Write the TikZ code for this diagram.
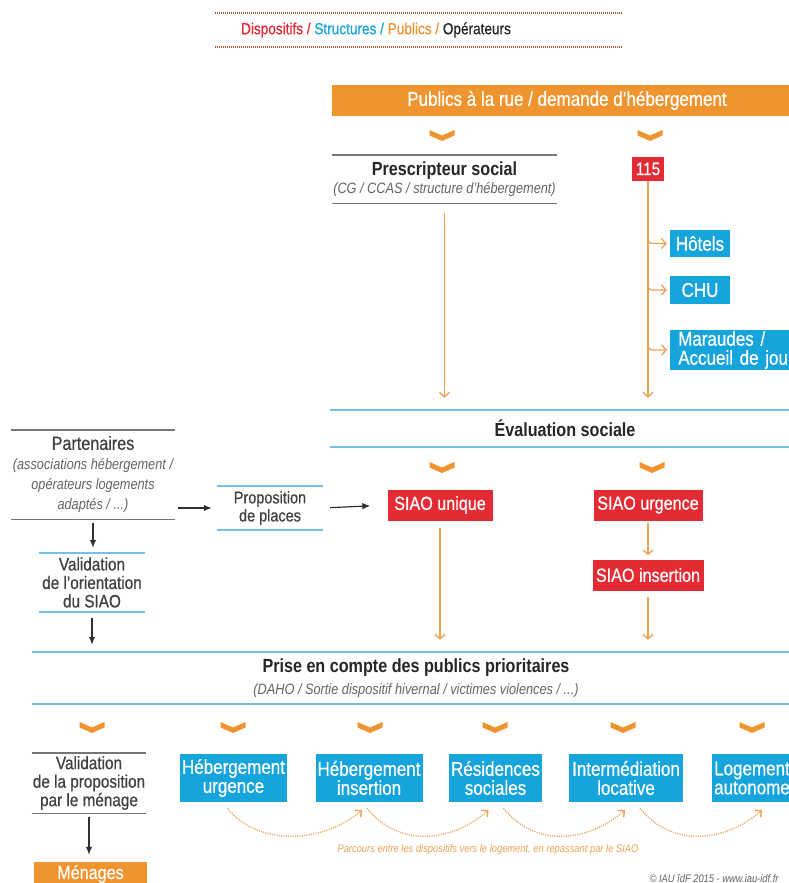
\documentclass[tikz,border=0pt]{standalone}
\usepackage{fontspec}
\setmainfont{Liberation Sans}[FakeStretch=0.85, UprightFeatures={FakeBold=0.6}]
\usetikzlibrary{positioning,arrows.meta}
\definecolor{orangeiau}{RGB}{240,148,48}
\definecolor{orangefin}{RGB}{236,162,84}
\definecolor{rougeiau}{RGB}{228,42,50}
\definecolor{bleuiau}{RGB}{22,164,220}
\definecolor{bleuligne}{RGB}{118,192,228}
\definecolor{grisligne}{RGB}{118,118,118}
\definecolor{texte}{RGB}{38,38,38}
\definecolor{textegris}{RGB}{64,64,64}
\definecolor{italgris}{RGB}{100,100,100}
\definecolor{noirfl}{RGB}{48,48,48}
\definecolor{pointbrun}{RGB}{168,86,56}
\newcommand{\gtitre}{\fontsize{19}{20}\selectfont\bfseries}
\newcommand{\gsous}{\itshape\color{italgris}}
\tikzset{
  bandeau/.style={fill=orangeiau, text=white, inner sep=0pt, font=\fontsize{20}{24}\selectfont},
  disp/.style={fill=rougeiau, text=white, inner sep=0pt, font=\fontsize{19}{22}\selectfont},
  struct/.style={fill=bleuiau, text=white, inner xsep=2pt, inner ysep=0pt, align=center, font=\fontsize{20}{19}\selectfont},
  bande/.style={inner sep=0pt, align=center, text=textegris},
  lbleu/.style={draw=bleuligne, line width=1.8pt},
  lgris/.style={draw=grisligne, line width=1.4pt},
  fo/.style={-{Straight Barb[length=4.5pt,width=10pt]}, orangefin, line width=1.3pt},
  fn/.style={-{Latex[length=8pt,width=6.5pt]}, noirfl, line width=1.2pt},
  parcours/.style={-{Straight Barb[length=4.5pt,width=9pt]}, orangefin, line width=1.4pt, dash pattern=on 1pt off 1.3pt},
  pointille/.style={pointbrun, line width=1.2pt, dash pattern=on 1pt off 1pt},
  chevron/.pic={\fill[orangeiau] (-12.5,-5) -- (0,0.5) -- (12.5,-5) -- (12.5,0.5) -- (0,6) -- (-12.5,0.5) -- cycle;},
}
\begin{document}
\begin{tikzpicture}[x=1pt, y=-1pt]
\useasboundingbox (0,0) rectangle (789,883);
\fill[white] (0,0) rectangle (789,883);
\clip (0,0) rectangle (789,883);

%% ---- legende des couleurs
\draw[pointille] (215,13) -- (622,13);
\draw[pointille] (215,47) -- (622,47);
\node[font=\fontsize{16}{18}\selectfont] (legende) at (376,30)
  {\color{rougeiau}Dispositifs / \color{bleuiau}Structures / \color{orangeiau}Publics / \color{texte}Opérateurs};

%% ---- la demande
\node[bandeau, minimum width=470, minimum height=31] (publics) at (567,100.5) {Publics à la rue / demande d’hébergement};
\pic at (442,135) {chevron};
\pic at (650,135) {chevron};

\node[bande, minimum width=225, minimum height=48, font=\fontsize{15}{18}\selectfont] (presc) at (444.5,179)
  {{\gtitre\color{texte}Prescripteur social}\\{\gsous (CG / CCAS / structure d’hébergement)}};
\node[disp, minimum width=32, minimum height=24, font=\fontsize{18}{20}\selectfont] (n115) at (648,169) {115};

%% ---- orientations directes du 115
\node[struct, minimum width=60, minimum height=27] (hotels) at (700,243.5) {Hôtels};
\node[struct, minimum width=60, minimum height=28] (chu) at (700,290) {CHU};
\node[struct, anchor=west, text width=125, inner xsep=8pt, minimum height=40, align=left] (maraudes) at (670,350)
  {Maraudes /\\Accueil de jour};

%% ---- evaluation puis SIAO
\node[bande, minimum width=470, minimum height=37, font=\gtitre, text=texte] (eval) at (565,428.5) {Évaluation sociale};
\pic at (442,467) {chevron};
\pic at (652,467) {chevron};
\node[disp, minimum width=105, minimum height=31] (unique) at (440,505) {SIAO unique};
\node[disp, minimum width=109, minimum height=31] (urgence) at (648,505) {SIAO urgence};
\node[disp, minimum width=111, minimum height=31] (insertion) at (648,575) {SIAO insertion};

%% ---- colonne des partenaires
\node[bande, minimum width=164, minimum height=89, font=\fontsize{15}{20}\selectfont\itshape] (partenaires) at (93,474.5)
  {{\fontsize{19}{20}\selectfont\upshape Partenaires}\\{\gsous (associations hébergement /}\\{\gsous opérateurs logements}\\{\gsous adaptés / ...)}};
\node[bande, minimum width=106, minimum height=44, font=\fontsize{17}{18}\selectfont] (prop) at (270,508) {Proposition\\de places};
\node[bande, minimum width=106, minimum height=59, font=\fontsize{18}{18.5}\selectfont] (valor) at (92,582.5)
  {Validation\\de l’orientation\\du SIAO};

%% ---- publics prioritaires
\node[bande, minimum width=768, minimum height=52, font=\fontsize{15}{22}\selectfont] (prise) at (416,678)
  {{\gtitre\color{texte}Prise en compte des publics prioritaires}\\{\gsous (DAHO / Sortie dispositif hivernal / victimes violences / ...)}};
\foreach \x in {92,233,370,495,623,752}
  \pic at (\x,727) {chevron};

%% ---- les structures d'accueil
\node[bande, minimum width=114, minimum height=60, font=\fontsize{18}{18.5}\selectfont] (valmen) at (89,783)
  {Validation\\de la proposition\\par le ménage};
\node[bandeau, minimum width=113, minimum height=24, font=\fontsize{19}{20}\selectfont] (menages) at (90.5,874) {Ménages};
\node[struct, minimum width=107, minimum height=48] (urg) at (233.5,778) {Hébergement\\urgence};
\node[struct, minimum width=106, minimum height=48] (ins) at (369,778) {Hébergement\\insertion};
\node[struct, minimum width=93, minimum height=48] (res) at (495.5,778) {Résidences\\sociales};
\node[struct, minimum width=114, minimum height=48] (int) at (626,778) {Intermédiation\\locative};
\node[struct, minimum width=80, minimum height=48] (log) at (752,778) {Logement\\autonome};

\node[font=\fontsize{11}{13}\selectfont\itshape, text=orangefin] (note) at (488,850)
  {Parcours entre les dispositifs vers le logement, en repassant par le SIAO};
\node[font=\fontsize{11}{13}\selectfont\itshape, text=italgris, anchor=west] (credit) at (646,879)
  {© IAU îdF 2015 - www.iau-idf.fr};

%% ---- filets des bandes
\foreach \n in {presc,partenaires,valmen}
  \draw[lgris] (\n.north west) -- (\n.north east) (\n.south west) -- (\n.south east);
\foreach \n in {eval,prop,valor,prise}
  \draw[lbleu] (\n.north west) -- (\n.north east) (\n.south west) -- (\n.south east);

%% ---- fleches orange
\draw[fo, shorten <=10pt, shorten >=12pt] (presc.south) -- (presc.south |- eval.north);
\draw[fo, shorten >=12pt] (n115.south) -- (n115.south |- eval.north);
\foreach \b in {hotels,chu,maraudes}
  \draw[fo, rounded corners=4pt, shorten >=3pt] (n115.south |- \b.north) |- (\b.west);
\draw[fo, shorten <=7pt, shorten >=12pt] (unique.south) -- (unique.south |- prise.north);
\draw[fo, shorten <=2pt, shorten >=4pt] (urgence) -- (insertion);
\draw[fo, shorten <=6pt, shorten >=12pt] (insertion.south) -- (insertion.south |- prise.north);

%% ---- fleches noires
\draw[fn, shorten <=3pt, shorten >=5pt] (partenaires.east |- prop.west) -- (prop.west);
\draw[fn, shorten <=7pt, shorten >=17pt] (prop.east) -- (unique.west);
\draw[fn, shorten <=4pt, shorten >=5pt] (partenaires.south) -- (partenaires.south |- valor.north);
\draw[fn, shorten <=6pt, shorten >=7pt] (valor.south) -- (valor.south |- prise.north);
\draw[fn, shorten <=4pt, shorten >=7pt] (valmen.south) -- (valmen.south |- menages.north);

%% ---- parcours d'une structure a l'autre
\foreach \a/\b/\s/\t in {urg/ins/-6/-7, ins/res/-2/-7, res/int/8/-1, int/log/14/10}
  \draw[parcours] ([xshift=\s, yshift=-6]\a.south) .. controls +(30,38) and +(-40,34) .. ([xshift=\t, yshift=-8]\b.south);
\end{tikzpicture}
\end{document}
